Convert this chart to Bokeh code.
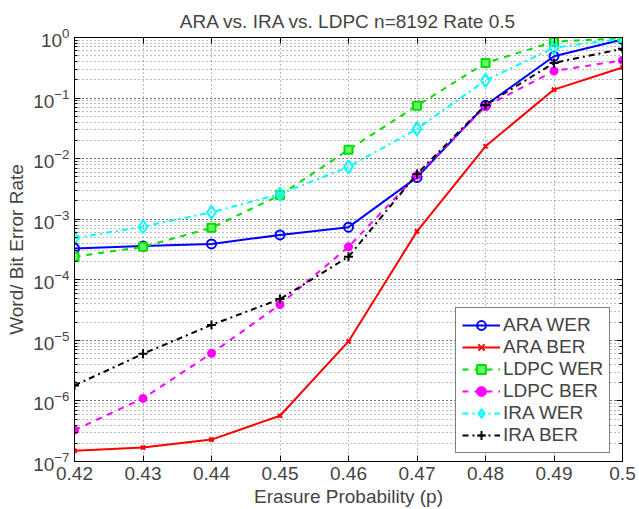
from bokeh.plotting import figure
from bokeh.models import (FixedTicker, LinearAxis, LogAxis, LogTicker, Legend,
                          LegendItem, Range1d)
from bokeh.embed import file_html
from bokeh.resources import INLINE

# ---- data ----
erasure_p = [0.42, 0.43, 0.44, 0.45, 0.46, 0.47, 0.48, 0.49, 0.50]
x_tick_labels = ["0.42", "0.43", "0.44", "0.45", "0.46", "0.47", "0.48", "0.49", "0.5"]

ara_wer = [3.3e-4, 3.6e-4, 3.9e-4, 5.5e-4, 7.4e-4, 4.9e-3, 0.076, 0.49, 0.93]
ara_ber = [1.5e-7, 1.7e-7, 2.3e-7, 5.7e-7, 9.6e-6, 6.3e-4, 0.016, 0.138, 0.32]
ldpc_wer = [2.4e-4, 3.5e-4, 7.2e-4, 2.5e-3, 0.014, 0.075, 0.38, 0.85, 0.98]
ldpc_ber = [3.3e-7, 1.1e-6, 6.1e-6, 3.9e-5, 3.5e-4, 5.3e-3, 0.073, 0.28, 0.42]
ira_wer = [4.9e-4, 7.5e-4, 1.3e-3, 2.6e-3, 7.3e-3, 0.031, 0.196, 0.68, 0.95]
ira_ber = [1.8e-6, 6.0e-6, 1.8e-5, 4.8e-5, 2.4e-4, 5.6e-3, 0.077, 0.38, 0.65]

FONT = "Liberation Sans"
FS = "19px"

p = figure(width=639, height=509, y_axis_type="log",
           x_range=Range1d(0.42, 0.5), y_range=Range1d(1e-7, 1),
           output_backend="svg", toolbar_location=None,
           title="ARA vs. IRA vs. LDPC n=8192 Rate 0.5",
           min_border_left=74, min_border_right=17, min_border_top=37,
           min_border_bottom=47)

p.title.text_font = FONT
p.title.text_font_size = FS
p.title.text_font_style = "normal"
p.title.align = "center"
p.title.standoff = 12

p.outline_line_color = "black"
p.outline_line_width = 1
p.background_fill_color = "white"

xt = FixedTicker(ticks=erasure_p)
p.xaxis.ticker = xt
p.xaxis.major_label_overrides = {v: s for v, s in zip(erasure_p, x_tick_labels)}
for ax in (p.xaxis, p.yaxis):
    ax.major_label_text_font = FONT
    ax.major_label_text_font_size = FS
    ax.axis_label_text_font = FONT
    ax.axis_label_text_font_size = FS
    ax.axis_label_text_font_style = "normal"
    ax.major_tick_in = 6
    ax.major_tick_out = 0
    ax.minor_tick_in = 3
    ax.minor_tick_out = 0
    ax.axis_line_color = "black"
    ax.major_label_standoff = 5
    ax.axis_label_standoff = 3
p.xaxis.axis_label = "Erasure Probability (p)"
p.yaxis.axis_label = "Word/ Bit Error Rate"
p.xaxis.minor_tick_line_color = None

top = LinearAxis(ticker=FixedTicker(ticks=erasure_p), major_label_text_font_size="1px",
                 major_label_text_alpha=0.0,
                 major_tick_in=6, major_tick_out=0, minor_tick_line_color=None,
                 major_label_standoff=0)
right = LogAxis(ticker=LogTicker(), major_label_text_font_size="1px",
                major_label_text_alpha=0.0,
                major_tick_in=6, major_tick_out=0, minor_tick_in=3, minor_tick_out=0,
                major_label_standoff=0)
p.add_layout(top, "above")
p.add_layout(right, "right")

for g in (p.xgrid, p.ygrid):
    g.grid_line_color = "#404040"
    g.grid_line_dash = "1 3"
    g.grid_line_alpha = 0.7
p.ygrid.minor_grid_line_color = "#404040"
p.ygrid.minor_grid_line_dash = "1 3"
p.ygrid.minor_grid_line_alpha = 0.7

items = []

def series(y, color, dash, marker, label, size, fill):
    l = p.line(erasure_p, y, line_color=color, line_width=2, line_dash=dash)
    s = p.scatter(erasure_p, y, marker=marker, size=size, line_color=color,
                  line_width=2, fill_color=fill if fill else color,
                  fill_alpha=1.0 if fill else 0.0)
    items.append(LegendItem(label=label, renderers=[l, s]))

series(ara_wer, "#0000ff", "solid", "circle", "ARA WER", 9, None)
series(ara_ber, "#ff0000", "solid", "x", "ARA BER", 6, None)
series(ldpc_wer, "#00dd00", "dashed", "square", "LDPC WER", 8, "#66ff66")
series(ldpc_ber, "#ff00ff", "dashed", "circle", "LDPC BER", 7, "#ff00ff")
series(ira_wer, "#00ffff", "dashdot", "diamond", "IRA WER", 13, None)
series(ira_ber, "#000000", "dashdot", "cross", "IRA BER", 9, None)

legend = Legend(items=items, location=(381, 8), orientation="vertical",
                label_text_font=FONT, label_text_font_size=FS,
                border_line_color="black", border_line_width=1,
                background_fill_alpha=1.0, padding=6, spacing=0,
                label_height=22, glyph_height=22, glyph_width=38,
                label_standoff=3, margin=0)
p.add_layout(legend, "center")

open("out.html", "w").write(file_html(p, INLINE))
